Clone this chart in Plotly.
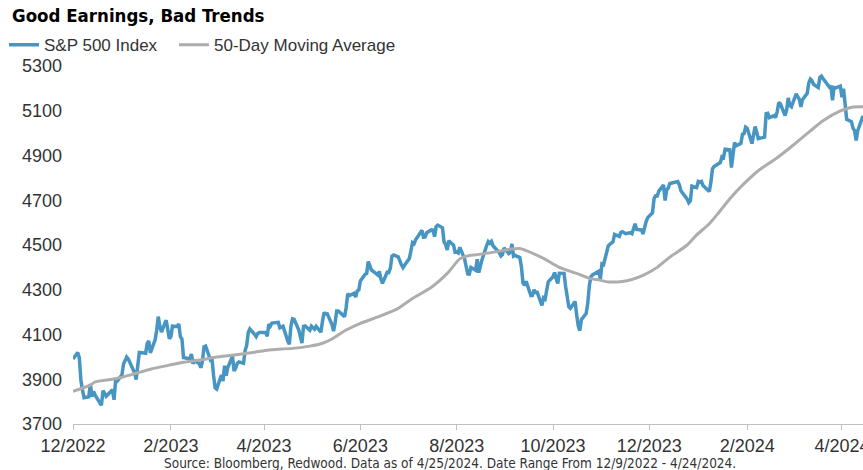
import pandas as pd
import plotly.graph_objects as go

# ---- data -------------------------------------------------------------
start_date = "2022-12-09"
end_date = "2024-04-24"
market_holidays = ["2022-12-26", "2023-01-02", "2023-01-16", "2023-02-20", "2023-04-07",
                   "2023-05-29", "2023-06-19", "2023-07-04", "2023-09-04", "2023-11-23",
                   "2023-12-25", "2024-01-01", "2024-01-15", "2024-02-19", "2024-03-29"]

spx_dec22 = [3990.6, 4019.7, 3995.3, 3895.8, 3852.4, 3817.7, 3821.6, 3878.4, 3822.4, 3844.8,
             3829.3, 3783.2, 3849.3, 3839.5]
spx_jan23 = [3824.1, 3853.0, 3808.1, 3895.1, 3892.1, 3919.3, 3969.6, 3983.2, 3999.1, 3991.0,
             3928.9, 3898.9, 3972.6, 4019.8, 4017.0, 4016.2, 4060.4, 4070.6, 4017.8, 4076.6]
spx_feb23 = [4119.2, 4179.8, 4136.5, 4111.1, 4164.0, 4117.9, 4081.5, 4090.5, 4137.3, 4136.1,
             4147.6, 4090.4, 4079.1, 3997.3, 3991.1, 4012.3, 3970.0, 3982.2, 3970.2]
spx_mar23 = [3951.4, 3981.4, 4045.6, 4048.4, 3986.4, 3992.0, 3918.3, 3861.6, 3855.8, 3919.3,
             3891.9, 3960.3, 3916.6, 3951.6, 4002.9, 3937.0, 3948.7, 3971.0, 3977.5, 3971.3,
             4027.8, 4050.8, 4109.3]
spx_apr23 = [4124.5, 4100.6, 4090.4, 4105.0, 4109.1, 4108.9, 4092.0, 4146.2, 4137.6, 4151.3,
             4154.9, 4154.5, 4129.8, 4133.5, 4137.0, 4071.6, 4056.0, 4135.4, 4169.5]
spx_may23 = [4167.9, 4119.6, 4090.8, 4061.2, 4136.3, 4138.1, 4119.2, 4137.6, 4130.6, 4124.1,
             4136.3, 4109.9, 4158.8, 4198.1, 4192.0, 4192.6, 4145.6, 4115.2, 4151.3, 4205.5,
             4205.5, 4179.8]
spx_jun23 = [4221.0, 4282.4, 4273.8, 4283.9, 4267.5, 4293.9, 4298.9, 4338.9, 4369.0, 4372.6,
             4425.8, 4409.6, 4388.7, 4365.7, 4381.9, 4348.3, 4328.8, 4378.4, 4376.9, 4396.4,
             4450.4]
spx_jul23 = [4455.6, 4446.8, 4411.6, 4399.0, 4409.5, 4439.3, 4472.2, 4510.0, 4505.4, 4522.8,
             4555.0, 4565.7, 4534.9, 4536.3, 4554.6, 4567.5, 4566.8, 4537.4, 4582.2, 4589.0]
spx_aug23 = [4576.7, 4513.4, 4501.9, 4478.0, 4518.4, 4499.4, 4467.7, 4468.8, 4464.1, 4489.7,
             4437.9, 4404.3, 4370.4, 4369.7, 4399.8, 4387.6, 4436.0, 4376.3, 4405.7, 4433.3,
             4497.6, 4514.9, 4507.7]
spx_sep23 = [4515.8, 4496.8, 4465.5, 4451.1, 4457.5, 4487.5, 4461.9, 4467.4, 4505.1, 4450.3,
             4453.5, 4444.0, 4402.2, 4330.0, 4320.1, 4337.4, 4273.5, 4274.5, 4299.7, 4288.1]
spx_oct23 = [4288.4, 4229.5, 4263.8, 4258.2, 4308.5, 4335.7, 4358.2, 4377.0, 4349.6, 4327.8,
             4373.6, 4373.2, 4314.6, 4278.0, 4224.2, 4217.0, 4247.7, 4186.8, 4137.2, 4117.4,
             4166.8, 4193.8]
spx_nov23 = [4237.9, 4317.8, 4358.3, 4366.0, 4378.4, 4382.8, 4347.4, 4415.2, 4411.6, 4495.7,
             4502.9, 4508.2, 4514.0, 4547.4, 4538.2, 4556.6, 4559.3, 4550.4, 4554.9, 4550.6,
             4567.8]
spx_dec23 = [4594.6, 4569.8, 4567.2, 4549.3, 4585.6, 4604.4, 4622.4, 4643.7, 4707.1, 4719.6,
             4719.2, 4740.6, 4768.4, 4698.4, 4746.8, 4754.6, 4774.8, 4781.6, 4783.4, 4769.8]
spx_jan24 = [4742.8, 4704.8, 4688.7, 4697.2, 4763.5, 4756.5, 4783.5, 4780.2, 4783.8, 4766.0,
             4739.2, 4780.9, 4839.8, 4850.4, 4864.6, 4868.6, 4894.2, 4891.0, 4927.9, 4925.0,
             4845.7]
spx_feb24 = [4906.2, 4958.6, 4942.8, 4954.2, 4995.1, 4997.9, 5026.6, 5021.8, 4953.2, 5000.6,
             5029.7, 5005.6, 4975.5, 4981.8, 5087.0, 5088.8, 5069.5, 5078.2, 5069.8, 5096.3]
spx_mar24 = [5137.1, 5131.0, 5078.7, 5104.8, 5157.4, 5123.7, 5117.9, 5175.3, 5165.3, 5150.5,
             5117.1, 5149.4, 5178.5, 5224.6, 5241.5, 5234.2, 5218.2, 5203.6, 5248.5, 5254.4]
spx_apr24 = [5243.8, 5205.8, 5211.5, 5147.2, 5204.3, 5202.4, 5209.9, 5160.6, 5199.1, 5123.4,
             5061.8, 5051.4, 5022.2, 5011.1, 4967.2, 5010.6, 5070.6, 5071.6, 5048.4]

ma_dates = ["2022-12-09", "2022-12-20", "2022-12-23", "2023-01-03", "2023-01-09", "2023-01-18",
            "2023-01-27", "2023-02-08", "2023-02-17", "2023-03-01", "2023-03-10", "2023-03-20",
            "2023-04-03", "2023-04-11", "2023-04-14", "2023-04-27", "2023-05-08", "2023-05-16",
            "2023-05-22", "2023-05-26", "2023-05-31", "2023-06-09", "2023-06-21", "2023-07-03",
            "2023-07-12", "2023-07-24", "2023-08-03", "2023-08-11", "2023-08-17", "2023-08-22",
            "2023-09-01", "2023-09-11", "2023-09-18", "2023-09-22", "2023-10-03", "2023-10-13",
            "2023-10-24", "2023-11-01", "2023-11-07", "2023-11-13", "2023-11-22", "2023-11-28",
            "2023-12-05", "2023-12-14", "2023-12-22", "2024-01-02", "2024-01-08", "2024-01-16",
            "2024-01-22", "2024-01-29", "2024-02-07", "2024-02-16", "2024-02-28", "2024-03-11",
            "2024-03-20", "2024-03-28", "2024-04-08", "2024-04-16", "2024-04-24"]
ma_values = [3846, 3874, 3888, 3900, 3909, 3927,
             3945, 3963, 3976, 3988, 3999, 4007,
             4021, 4030, 4032, 4038, 4048, 4061,
             4080, 4098, 4120, 4150, 4181, 4217,
             4261, 4311, 4373, 4438, 4453, 4457,
             4467, 4480, 4484, 4475, 4440, 4400,
             4373, 4351, 4344, 4335, 4337, 4346,
             4364, 4400, 4446, 4500, 4545, 4595,
             4645, 4707, 4774, 4832, 4890, 4957,
             5010, 5055, 5099, 5117, 5118]

tick_dates = ["2022-12-09", "2023-02-09", "2023-04-09", "2023-06-09", "2023-08-09",
              "2023-10-09", "2023-12-09", "2024-02-09", "2024-04-09"]
tick_labels = ["12/2022", "2/2023", "4/2023", "6/2023", "8/2023",
               "10/2023", "12/2023", "2/2024", "4/2024"]
y_ticks = [3700, 3900, 4100, 4300, 4500, 4700, 4900, 5100, 5300]

spx_values = (spx_dec22 + spx_jan23 + spx_feb23 + spx_mar23 + spx_apr23 + spx_may23 +
              spx_jun23 + spx_jul23 + spx_aug23 + spx_sep23 + spx_oct23 + spx_nov23 +
              spx_dec23 + spx_jan24 + spx_feb24 + spx_mar24 + spx_apr24)
trade_dates = [d for d in pd.bdate_range(start_date, end_date)
               if d.strftime("%Y-%m-%d") not in market_holidays]
n = min(len(trade_dates), len(spx_values))
trade_dates = trade_dates[:n]
spx_values = spx_values[:n]

# ---- figure -----------------------------------------------------------
BLUE = "#4795C3"
GREY = "#ADADAD"
TXT = "#333333"
FONT = "Liberation Sans, Arial, sans-serif"
COND = "DejaVu Sans Condensed, Liberation Sans Narrow, sans-serif"

fig = go.Figure()
fig.add_trace(go.Scatter(x=trade_dates, y=spx_values, mode="lines", name="S&P 500 Index",
                         line=dict(color=BLUE, width=3.5), legend="legend"))
fig.add_trace(go.Scatter(x=ma_dates, y=ma_values, mode="lines", name="50-Day Moving Average",
                         line=dict(color=GREY, width=3, shape="spline", smoothing=0.6),
                         legend="legend2"))

legend_common = dict(orientation="h", xanchor="left", y=1.058, yanchor="middle",
                     font=dict(family=FONT, size=17, color=TXT), bgcolor="rgba(0,0,0,0)",
                     itemwidth=30, borderwidth=0)

fig.update_layout(
    template="none",
    width=863, height=470,
    margin=dict(l=73, r=0, t=66, b=46, autoexpand=False),
    paper_bgcolor="white", plot_bgcolor="white",
    font=dict(family=FONT, size=18, color=TXT),
    title=dict(text="<b>Good Earnings, Bad Trends</b>", xref="container", yref="container",
               x=12 / 863, xanchor="left", y=1 - 16 / 470, yanchor="middle",
               font=dict(family=COND, size=18.5, color="#000000")),
    legend=dict(x=(4 - 73) / 790, **legend_common),
    legend2=dict(x=(174 - 73) / 790, **legend_common),
    showlegend=True,
    xaxis=dict(type="date", range=["2022-12-09", "2024-04-22 08:00"],
               tickvals=tick_dates, ticktext=tick_labels, tickangle=0,
               showline=True, linecolor="#BFBFBF", linewidth=1,
               ticks="outside", ticklen=5, tickcolor="#BFBFBF", tickwidth=1,
               showgrid=False, zeroline=False, automargin=False, ticklabeloverflow="allow",
               tickfont=dict(family=FONT, size=18, color=TXT)),
    yaxis=dict(range=[3700, 5300], tickvals=y_ticks, showgrid=False, zeroline=False,
               showline=False, ticks="", ticklabelstandoff=10, automargin=False,
               tickfont=dict(family=FONT, size=18, color=TXT)),
)

fig.add_annotation(text="Source: Bloomberg, Redwood. Data as of 4/25/2024. Date Range From 12/9/2022 - 4/24/2024.",
                   xref="paper", yref="paper", x=(450 - 73) / 790, y=-(463 - 424) / 358,
                   xanchor="center", yanchor="middle", showarrow=False,
                   font=dict(family=COND, size=13.5, color=TXT))

fig.write_html("out.html", config={"displayModeBar": False},
               post_script="document.body.style.margin='0px';")
